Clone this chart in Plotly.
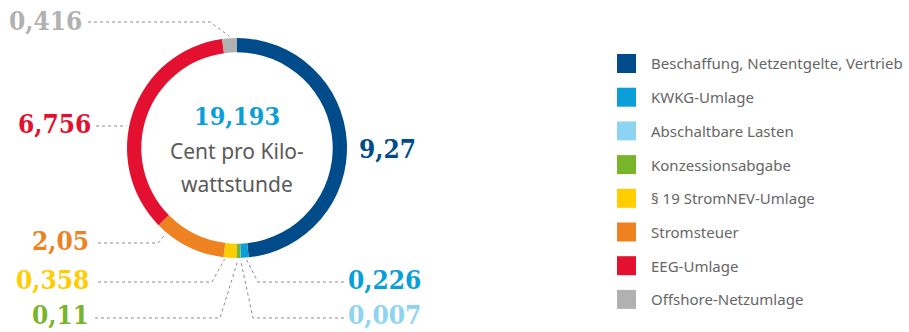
import math
import plotly.graph_objects as go

# Strompreis-Zusammensetzung in Cent pro Kilowattstunde
categories = [
    "Beschaffung, Netzentgelte, Vertrieb",
    "KWKG-Umlage",
    "Abschaltbare Lasten",
    "Konzessionsabgabe",
    "§ 19 StromNEV-Umlage",
    "Stromsteuer",
    "EEG-Umlage",
    "Offshore-Netzumlage",
]
values = [9.27, 0.226, 0.007, 0.11, 0.358, 2.05, 6.756, 0.416]
value_labels = ["9,27", "0,226", "0,007", "0,11", "0,358", "2,05", "6,756", "0,416"]
total_label = "19,193"
colors = ["#004C8A", "#0A9FD8", "#8DD3F2", "#79B52B", "#FFCD00", "#EF8220", "#E3102F", "#B1B1B1"]

W, H = 909, 332
CX, CY, R = 237, 148, 110  # ring centre and outer radius in px
HOLE = 0.87
SERIF = "DejaVu Serif Condensed, DejaVu Serif"


def px(x):
    return x / W


def py(y):
    return 1 - y / H


def ring_point(angle_deg, r=R + 2):
    a = math.radians(angle_deg)
    return CX + r * math.sin(a), CY - r * math.cos(a)


# cumulative angles (clockwise from 12 o'clock)
total = sum(values)
starts, ends = [], []
acc = 0.0
for v in values:
    starts.append(acc / total * 360)
    acc += v
    ends.append(acc / total * 360)


def slice_angle(i, frac=0.5):
    return starts[i] + (ends[i] - starts[i]) * frac


fig = go.Figure()
fig.add_trace(go.Pie(
    labels=categories,
    values=values,
    sort=False,
    direction="clockwise",
    rotation=0,
    hole=HOLE,
    marker=dict(colors=colors, line=dict(width=0)),
    textinfo="none",
    hoverinfo="skip",
    showlegend=False,
    domain=dict(x=[px(CX - R), px(CX + R)], y=[py(CY + R), py(CY - R)]),
))

shapes = []
annotations = []

# value labels with dotted leader lines
# (slice index, side, text edge x, text y, line y, line start x, elbow x, anchor fraction)
leaders = [
    (0, "right", 358, 149, 151, None, None, None),
    (1, "right", 347, 280, 282, 344, 258, 0.3),
    (2, "right", 347, 315, 318, 344, 253, 0.5),
    (3, "left", 90, 315, 318, 95, 220, 0.6),
    (4, "left", 90, 280, 282, 98, 212, 0.9),
    (5, "left", 90, 241, 243, 98, 158, 0.85),
    (6, "left", 92, 124, 126, 96, None, 0.43),
    (7, "left", 83, 21, 22, 88, 210, 0.5),
]
for i, side, tx, ty, ly, sx, ex, frac in leaders:
    annotations.append(dict(
        x=px(tx), y=py(ty), xref="paper", yref="paper",
        text=value_labels[i], showarrow=False, borderpad=0,
        xanchor="left" if side == "right" else "right", yanchor="middle",
        font=dict(family=SERIF, size=26, color=colors[i], weight="bold"),
    ))
    if sx is None:
        continue
    rx, ry = ring_point(slice_angle(i, frac))
    if ex is None:
        pts = [(sx, ly), (rx, ly)]
    else:
        pts = [(sx, ly), (ex, ly), (rx, ry)]
    path = "M " + " L ".join(f"{px(x):.5f},{py(y):.5f}" for x, y in pts)
    shapes.append(dict(type="path", path=path, xref="paper", yref="paper",
                       line=dict(color="#8C8C8C", width=1, dash="dot")))

# centre text
annotations.append(dict(x=px(CX), y=py(116), xref="paper", yref="paper",
                        text=total_label, showarrow=False, xanchor="center", yanchor="middle",
                        font=dict(family=SERIF, size=25, color="#0A9FD8", weight="bold")))
for txt, yy in [("Cent pro Kilo-", 151), ("wattstunde", 184)]:
    annotations.append(dict(x=px(CX), y=py(yy), xref="paper", yref="paper",
                            text=txt, showarrow=False, xanchor="center", yanchor="middle",
                            font=dict(family="Noto Sans", size=21, color="#5A5A5A")))

# legend
LEG_X, LEG_Y0, LEG_DY, SQ = 617, 63.5, 33.7, 19
for i, name in enumerate(categories):
    yc = LEG_Y0 + i * LEG_DY
    shapes.append(dict(type="rect", xref="paper", yref="paper",
                       x0=px(LEG_X), x1=px(LEG_X + SQ),
                       y0=py(yc + SQ / 2), y1=py(yc - SQ / 2),
                       fillcolor=colors[i], line=dict(width=0)))
    annotations.append(dict(x=px(LEG_X + SQ + 13), y=py(yc), xref="paper", yref="paper",
                            text=name, showarrow=False, xanchor="left", yanchor="middle",
                            font=dict(family="Noto Sans", size=15, color="#666666")))

fig.update_layout(
    width=W, height=H,
    margin=dict(l=0, r=0, t=0, b=0),
    paper_bgcolor="white", plot_bgcolor="white",
    shapes=shapes, annotations=annotations,
    showlegend=False,
)
fig.write_html("out.html")
